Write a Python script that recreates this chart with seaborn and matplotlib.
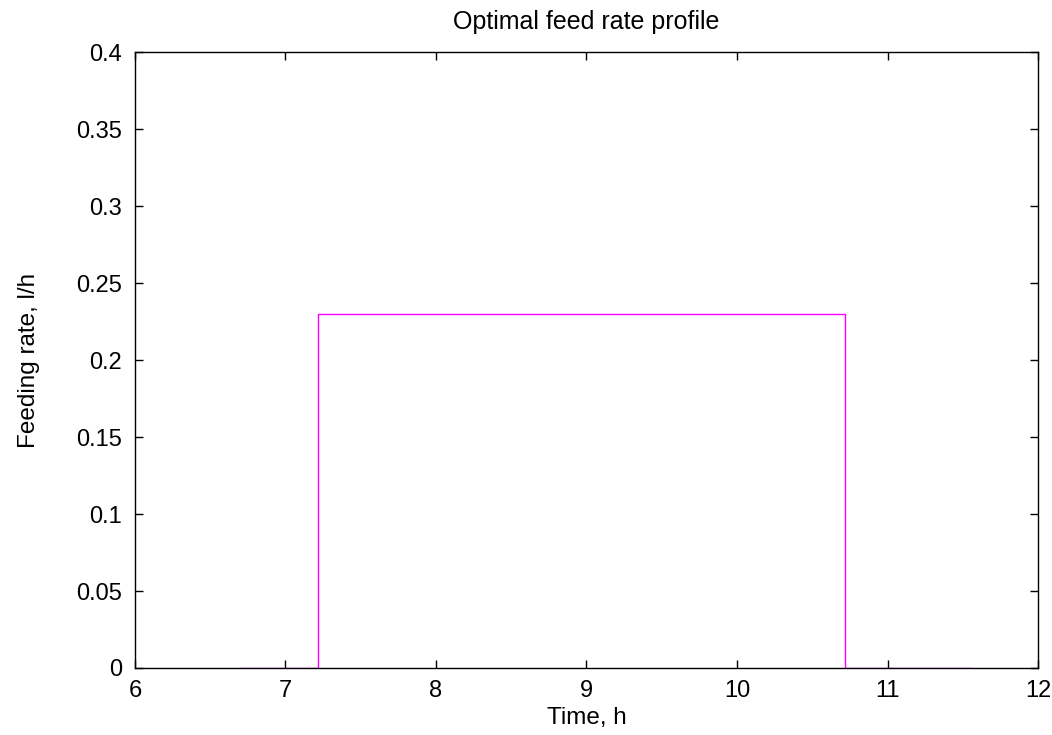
import matplotlib
matplotlib.use("Agg")
import matplotlib.pyplot as plt
import seaborn as sns
import pandas as pd

# Data (step profile, steps-post)
time_h = [6.692, 7.219, 10.716, 11.563]
feed_rate = [0.0, 0.23, 0.0, 0.0]

sns.set_style("ticks")
plt.rcParams['font.family'] = ['Liberation Sans', 'DejaVu Sans']
plt.rcParams['xtick.direction'] = 'in'
plt.rcParams['ytick.direction'] = 'in'
plt.rcParams['text.color'] = 'black'
plt.rcParams['axes.labelcolor'] = 'black'

df = pd.DataFrame({"time": time_h, "rate": feed_rate})

fig = plt.figure(figsize=(10.52, 7.35), dpi=100)
ax = fig.add_axes([0.1283, 0.0912, 0.8584, 0.8375])

sns.lineplot(data=df, x="time", y="rate", ax=ax, color="#ff00ff",
             drawstyle="steps-post", linewidth=1.0, estimator=None, sort=False)

ax.set_xlim(6, 12)
ax.set_ylim(0, 0.4)
ax.set_xticks([6, 7, 8, 9, 10, 11, 12])
ax.set_xticklabels(["6", "7", "8", "9", "10", "11", "12"])
ax.set_yticks([0, 0.05, 0.1, 0.15, 0.2, 0.25, 0.3, 0.35, 0.4])
ax.set_yticklabels(["0", "0.05", "0.1", "0.15", "0.2", "0.25", "0.3", "0.35", "0.4"])
ax.tick_params(axis="both", which="both", direction="in", length=6, width=1,
               top=True, right=True, labelsize=17, colors="black")
ax.tick_params(axis="y", pad=9.5)
ax.tick_params(axis="x", pad=8.5)
for s in ax.spines.values():
    s.set_visible(True)
    s.set_linewidth(1.0)
    s.set_color("black")

ax.set_xlabel("Time, h", fontsize=17.5, labelpad=4, color="black")
ax.set_ylabel("Feeding rate, l/h", fontsize=17.5, labelpad=26, color="black")
ax.set_title("Optimal feed rate profile", fontsize=18, pad=17, color="black")

fig.savefig("out.png", dpi=100)
